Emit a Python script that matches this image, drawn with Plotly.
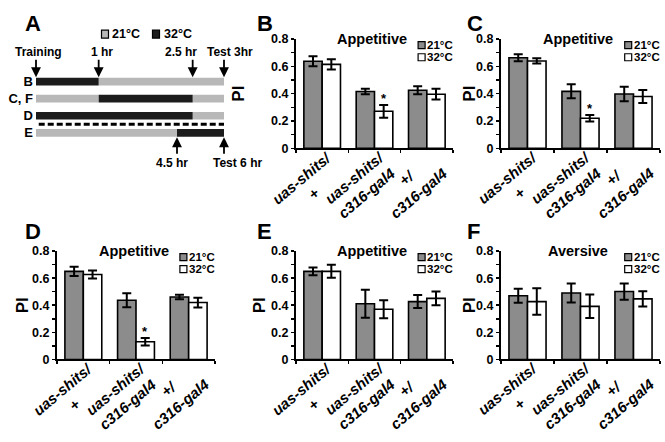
import plotly.graph_objects as go

# ---------------- data ----------------
GENOTYPES = ["uas-shits/ +", "uas-shits/ c316-gal4", "+/ c316-gal4"]
TICK_TEXT = ["uas-shits/<br>+", "uas-shits/<br>c316-gal4", "+/<br>c316-gal4"]
TEMPS = ["21°C", "32°C"]
PANELS = ["B", "C", "D", "E", "F"]
TITLES = ["Appetitive", "Appetitive", "Appetitive", "Appetitive", "Aversive"]

pi21_B = [0.637, 0.416, 0.425]
err21_B = [0.036, 0.020, 0.030]
pi32_B = [0.614, 0.271, 0.396]
err32_B = [0.037, 0.047, 0.039]
sig_B = [False, True, False]

pi21_C = [0.663, 0.417, 0.398]
err21_C = [0.026, 0.051, 0.053]
pi32_C = [0.639, 0.220, 0.379]
err32_C = [0.019, 0.024, 0.047]
sig_C = [False, True, False]

pi21_D = [0.650, 0.437, 0.461]
err21_D = [0.034, 0.052, 0.017]
pi32_D = [0.627, 0.131, 0.420]
err32_D = [0.030, 0.028, 0.036]
sig_D = [False, True, False]

pi21_E = [0.650, 0.411, 0.427]
err21_E = [0.029, 0.104, 0.048]
pi32_E = [0.650, 0.370, 0.451]
err32_E = [0.048, 0.066, 0.051]
sig_E = [False, False, False]

pi21_F = [0.470, 0.490, 0.501]
err21_F = [0.051, 0.070, 0.060]
pi32_F = [0.427, 0.392, 0.447]
err32_F = [0.098, 0.087, 0.057]
sig_F = [False, False, False]

DATA = {
    "B": (pi21_B, err21_B, pi32_B, err32_B, sig_B),
    "C": (pi21_C, err21_C, pi32_C, err32_C, sig_C),
    "D": (pi21_D, err21_D, pi32_D, err32_D, sig_D),
    "E": (pi21_E, err21_E, pi32_E, err32_E, sig_E),
    "F": (pi21_F, err21_F, pi32_F, err32_F, sig_F),
}

# timeline (panel A)
TL_ROWS = ["B", "C, F", "D", "E"]
seg_row = ["B", "B", "C, F", "C, F", "C, F", "D", "D", "E", "E"]
seg_start = [0, 1, 0, 1, 2.5, 0, 2.5, 0, 4.5]
seg_end = [1, 3, 1, 2.5, 3, 2.5, 3, 4.5, 6]
seg_temp = ["32°C", "21°C", "21°C", "32°C", "21°C", "32°C", "21°C", "21°C", "32°C"]
TOP_ARROW_T = [0, 1, 2.5, 3]
TOP_ARROW_LBL = ["Training", "1 hr", "2.5 hr", "Test 3hr"]
BOT_ARROW_T = [4.5, 6]
BOT_ARROW_LBL = ["4.5 hr", "Test 6 hr"]

# ---------------- style / layout ----------------
W, H = 665, 442
FONT = "Liberation Sans, Arial, Helvetica, sans-serif"
GRAY = "#8c8c8c"
LIGHT = "#b8b8b8"
DARK = "#1c1c1c"


def fx(p):
    return p / W


def fy(p):
    return 1 - p / H


PANEL_CFG = {
    "B": dict(ax="", x=(296, 453), y=(33, 146), pi=-57, letter=(255, 17)),
    "C": dict(ax="2", x=(501, 660), y=(33, 146), pi=-31, letter=(465, 17)),
    "D": dict(ax="3", x=(57, 215), y=(252, 364), pi=-35, letter=(23, 232)),
    "E": dict(ax="4", x=(296, 453), y=(252, 364), pi=-37, letter=(255, 232)),
    "F": dict(ax="5", x=(501, 660), y=(252, 364), pi=-32, letter=(465, 232)),
}

fig = go.Figure()
annotations = []
shapes = []
layout_axes = {}


def bold(size, italic=False, color="black"):
    d = dict(family=FONT, size=size, color=color, weight="bold")
    if italic:
        d["style"] = "italic"
    return d


for p, title in zip(PANELS, TITLES):
    cfg = PANEL_CFG[p]
    a = cfg["ax"]
    xa, ya = "x" + a, "y" + a
    v21, e21, v32, e32, sig = DATA[p]
    for vals, errs, col, name in ((v21, e21, GRAY, TEMPS[0]), (v32, e32, "white", TEMPS[1])):
        fig.add_trace(go.Bar(
            x=GENOTYPES, y=vals, name=name, xaxis=xa, yaxis=ya, showlegend=False,
            marker=dict(color=col, line=dict(color="black", width=1.6)),
            error_y=dict(type="data", array=errs, color="black", thickness=2, width=4.5),
        ))
    xkey = "xaxis" + a
    ykey = "yaxis" + a
    layout_axes[xkey] = dict(
        domain=[fx(cfg["x"][0]), fx(cfg["x"][1])], anchor=ya, type="category",
        range=[-0.5, 2.5], showline=True, linecolor="black", linewidth=2,
        ticks="outside", tickson="boundaries", ticklen=3, tickwidth=1.5, tickcolor="black",
        showticklabels=False, showgrid=False, zeroline=False,
    )
    layout_axes[ykey] = dict(
        domain=[fy(cfg["y"][1]), fy(cfg["y"][0])], anchor=xa, range=[0, 0.8],
        tick0=0, dtick=0.2, ticks="outside", ticklen=3, tickwidth=1.5, tickcolor="black",
        minor=dict(dtick=0.1, ticks="outside", ticklen=3, tickwidth=1.5, tickcolor="black", showgrid=False),
        showline=True, linecolor="black", linewidth=2, showgrid=False, zeroline=False,
        tickfont=bold(12.5),
    )
    # category labels (rotated, centred lines)
    for j, t in enumerate(TICK_TEXT):
        annotations.append(dict(
            x=j, xref=xa, y=0, yref=ya, text=t, textangle=-40, showarrow=False,
            font=bold(15, italic=True), align="center", xanchor="center", yanchor="middle",
            xshift=-14, yshift=-37,
        ))
    # title
    annotations.append(dict(
        x=0.485, xref=xa + " domain", y=1.0, yref=ya + " domain", text=title,
        showarrow=False, font=bold(14.5), xanchor="center", yanchor="middle",
    ))
    # PI label
    annotations.append(dict(
        x=0, xref=xa + " domain", y=0.5, yref=ya + " domain", text="PI", textangle=-90,
        showarrow=False, font=bold(17), xanchor="center", yanchor="middle", xshift=cfg["pi"],
    ))
    # panel letter
    annotations.append(dict(
        x=fx(cfg["letter"][0]), xref="paper", y=fy(cfg["letter"][1]), yref="paper", text=p,
        showarrow=False, font=bold(22), xanchor="left", yanchor="middle",
    ))
    # legend
    for k, (name, col) in enumerate(zip(TEMPS, [GRAY, "white"])):
        yy = [0.943, 0.833][k]
        shapes.append(dict(
            type="rect", xref=xa + " domain", yref=ya + " domain",
            xsizemode="pixel", ysizemode="pixel", xanchor=0.80, yanchor=yy,
            x0=-3.5, x1=3.5, y0=-3.5, y1=3.5, fillcolor=col, line=dict(color="black", width=1.2),
        ))
        annotations.append(dict(
            x=0.823, xref=xa + " domain", y=yy, yref=ya + " domain", text=name,
            showarrow=False, font=bold(11.5), xanchor="left", yanchor="middle",
        ))
    # significance stars
    for j, s in enumerate(sig):
        if s:
            annotations.append(dict(
                x=j + 0.175, xref=xa, y=v32[j] + e32[j], yref=ya, text="*",
                showarrow=False, font=bold(13), xanchor="center", yanchor="bottom", yshift=-3,
            ))

# ---------------- panel A: timeline ----------------
for temp, col in zip(TEMPS, [LIGHT, DARK]):
    for xa, rows in (("x6", ["B", "C, F", "D"]), ("x7", ["E"])):
        idx = [k for k in range(len(seg_row)) if seg_temp[k] == temp and seg_row[k] in rows]
        fig.add_trace(go.Bar(
            orientation="h", y=[seg_row[k] for k in idx],
            base=[seg_start[k] for k in idx],
            x=[seg_end[k] - seg_start[k] for k in idx],
            width=0.45, offset=-0.225, xaxis=xa, yaxis="y6", showlegend=False, name=temp,
            marker=dict(color=col, line=dict(width=0)),
        ))

layout_axes["xaxis6"] = dict(domain=[fx(36), fx(224)], anchor="y6", range=[0, 3], visible=False)
layout_axes["xaxis7"] = dict(domain=[fx(36), fx(224)], anchor="y6", range=[0, 6], visible=False,
                             overlaying="x6")
layout_axes["yaxis6"] = dict(
    domain=[fy(138.8), fy(68.2)], anchor="x6", type="category", categoryorder="array",
    categoryarray=TL_ROWS, range=[3.5, -0.5], showline=False, ticks="", showgrid=False,
    zeroline=False, tickfont=bold(13), ticklabelstandoff=2,
)

# dashed separator between D and E rows
shapes.append(dict(type="line", xref="x6", yref="y6", x0=-0.1, x1=3.08, y0=2.5, y1=2.5,
                   line=dict(color="black", width=3, dash="6px,3px")))

TOP_TEXT_SHIFT = [2, 3, -12, 6]
for t, lbl, sh in zip(TOP_ARROW_T, TOP_ARROW_LBL, TOP_TEXT_SHIFT):
    annotations.append(dict(x=t, xref="x6", y=-0.26, yref="y6", text="", showarrow=True,
                            ax=0, ay=-19, axref="pixel", ayref="pixel", arrowhead=2,
                            arrowsize=1.1, arrowwidth=1.8, arrowcolor="black", standoff=0))
    annotations.append(dict(x=t, xref="x6", y=-0.26, yref="y6", text=lbl, showarrow=False,
                            font=bold(12), xanchor="center", yanchor="middle", yshift=25.5, xshift=sh))

BOT_TEXT_SHIFT = [-5, 13]
for t, lbl, sh in zip(BOT_ARROW_T, BOT_ARROW_LBL, BOT_TEXT_SHIFT):
    annotations.append(dict(x=t, xref="x7", y=3.26, yref="y6", text="", showarrow=True,
                            ax=0, ay=18, axref="pixel", ayref="pixel", arrowhead=2,
                            arrowsize=1.1, arrowwidth=1.8, arrowcolor="black", standoff=0))
    annotations.append(dict(x=t, xref="x7", y=3.26, yref="y6", text=lbl, showarrow=False,
                            font=bold(12), xanchor="center", yanchor="middle", yshift=-26, xshift=sh))

# panel A legend
for name, col, cx, tx in ((TEMPS[0], LIGHT, 105, 110), (TEMPS[1], DARK, 156, 162)):
    shapes.append(dict(type="rect", xref="paper", yref="paper", xsizemode="pixel", ysizemode="pixel",
                       xanchor=fx(cx), yanchor=fy(28), x0=-3.5, x1=3.5, y0=-4, y1=4,
                       fillcolor=col, line=dict(color="black", width=1.2)))
    annotations.append(dict(x=fx(tx), xref="paper", y=fy(28), yref="paper", text=name,
                            showarrow=False, font=bold(12.5), xanchor="left", yanchor="middle"))
annotations.append(dict(x=fx(23), xref="paper", y=fy(17), yref="paper", text="A",
                        showarrow=False, font=bold(22), xanchor="left", yanchor="middle"))

fig.update_layout(
    width=W, height=H, margin=dict(l=0, r=0, t=0, b=0),
    paper_bgcolor="white", plot_bgcolor="rgba(0,0,0,0)",
    barmode="group", bargap=0.3, bargroupgap=0,
    showlegend=False, font=dict(family=FONT, color="black"),
    annotations=annotations, shapes=shapes, **layout_axes,
)

fig.write_html(
    "out.html",
    config={"displayModeBar": False, "staticPlot": True},
    post_script="document.body.style.margin='0';document.body.style.overflow='hidden';",
)
